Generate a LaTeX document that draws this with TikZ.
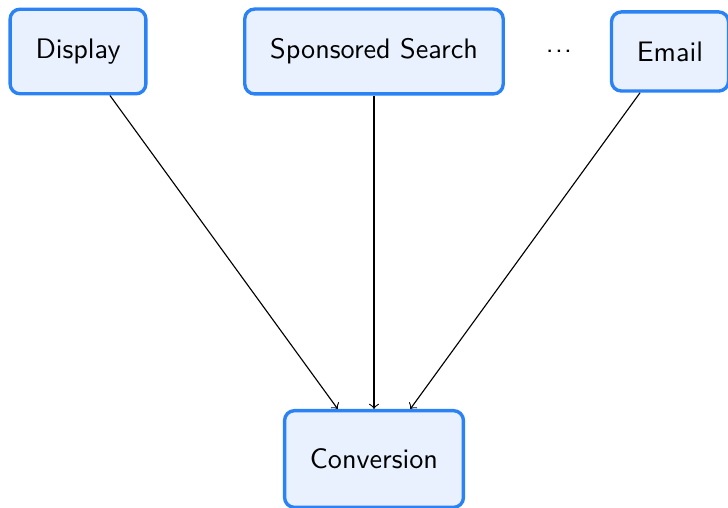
\documentclass[tikz,border=0pt]{standalone}
\usetikzlibrary{arrows}
\definecolor{boxline}{RGB}{42,130,245}
\definecolor{boxfill}{RGB}{232,241,253}
\tikzset{
  channel/.style={draw=boxline, fill=boxfill, line width=1.2pt,
    rounded corners=3.5pt, inner xsep=9pt, inner ysep=10.5pt,
    font=\sffamily},
  flow/.style={->, line width=0.4pt, black}
}
\begin{document}
\begin{tikzpicture}[x=0.3546pt, y=-0.3546pt]
  \useasboundingbox (0,0) rectangle (728,508);
  \clip (0,0) rectangle (728,508);
  \node[channel] (display) at (78,51.5) {Display};
  \node[channel] (search) at (374,51.5) {Sponsored Search};
  \node[font=\sffamily] (more) at (559,51.5) {.\kern0.45pt.\kern0.45pt.};
  \node[channel] (email) at (670,51.5) {Email};
  \node[channel, minimum height=34.3pt] (conv) at (374,459) {Conversion};
  \draw[flow] (display) -- (conv);
  \draw[flow] (search) -- (conv);
  \draw[flow] (email) -- (conv);
\end{tikzpicture}
\end{document}
